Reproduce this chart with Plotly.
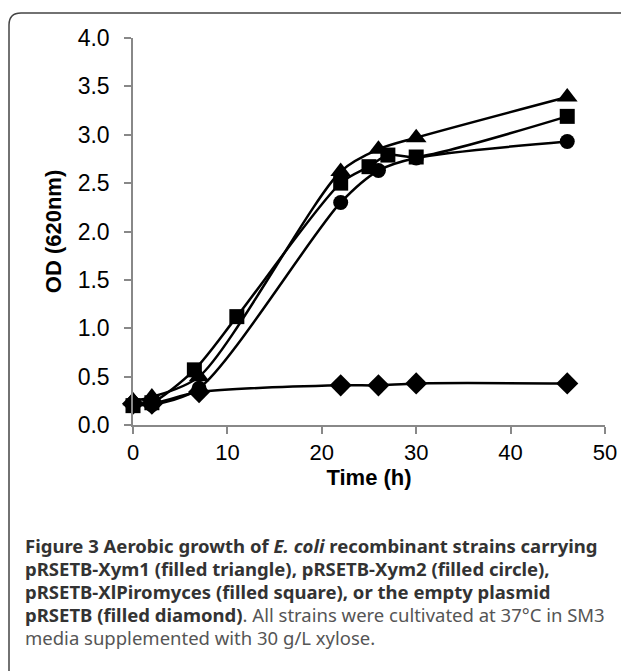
import plotly.graph_objects as go

# Data
t_xym1 = [0, 2, 7, 22, 26, 30, 46]
od_xym1 = [0.25, 0.29, 0.50, 2.62, 2.85, 2.97, 3.39]

t_xym2 = [0, 2, 7, 22, 26, 30, 46]
od_xym2 = [0.22, 0.21, 0.38, 2.30, 2.63, 2.76, 2.93]

t_xlp = [0, 2, 6.5, 11, 22, 25, 27, 30, 46]
od_xlp = [0.20, 0.23, 0.57, 1.12, 2.50, 2.67, 2.79, 2.77, 3.19]

t_empty = [0, 2, 7, 22, 26, 30, 46]
od_empty = [0.22, 0.22, 0.34, 0.41, 0.41, 0.43, 0.43]

x_ticks = [0, 10, 20, 30, 40, 50]
y_ticks = [0.0, 0.5, 1.0, 1.5, 2.0, 2.5, 3.0, 3.5, 4.0]

caption_lines = [
    "<b>Figure 3 Aerobic growth of <i>E. coli</i> recombinant strains carrying</b>",
    "<b>pRSETB-Xym1 (filled triangle), pRSETB-Xym2 (filled circle),</b>",
    "<b>pRSETB-XlPiromyces (filled square), or the empty plasmid</b>",
    "<b>pRSETB (filled diamond)</b><span style='color:#555'>. All strains were cultivated at 37°C in SM3</span>",
    "<span style='color:#555'>media supplemented with 30 g/L xylose.</span>",
]

# the page body has an 8px margin, so the figure is drawn offset by 8px
OFF = 8
W, H = 629 - OFF, 671 - OFF
ML, MR, MT, MB = 133 - OFF, 24, 38 - OFF, 246
PW = W - ML - MR
PH = H - MT - MB


def px(xp):
    return (xp - OFF - ML) / PW


def py(yp):
    return (H - MB - (yp - OFF)) / PH


fig = go.Figure()

series = [
    (t_empty, od_empty, "diamond", 17),
    (t_xym2, od_xym2, "circle", 15),
    (t_xlp, od_xlp, "square", 15),
    (t_xym1, od_xym1, "triangle-up", 18),
]
for tx, ty, sym, sz in series:
    fig.add_trace(go.Scatter(
        x=tx, y=ty, mode="lines+markers",
        line=dict(color="black", width=2.5, shape="spline", smoothing=0.8),
        marker=dict(symbol=sym, size=sz, color="black"),
        showlegend=False, cliponaxis=False,
    ))

fig.update_xaxes(
    range=[0, 50], tickvals=x_ticks, ticktext=[str(v) for v in x_ticks],
    showgrid=False, zeroline=False, showline=True, linecolor="#888", linewidth=1.5,
    ticks="outside", ticklen=7, tickcolor="#888", tickwidth=1.5,
    tickfont=dict(family="Liberation Sans, Arial", size=22, color="black"),
    title=dict(text="<b>Time (h)</b>", font=dict(family="Liberation Sans, Arial", size=22, color="black"), standoff=4),
)
fig.update_yaxes(
    range=[0, 4], tickvals=y_ticks, ticktext=[f"{v:.1f}" for v in y_ticks],
    showgrid=False, zeroline=False, showline=True, linecolor="#888", linewidth=1.5,
    ticks="outside", ticklen=7, tickcolor="#888", tickwidth=1.5,
    ticklabelstandoff=10,
    tickfont=dict(family="Liberation Sans, Arial", size=23, color="black"),
    title=dict(text="<b>OD (620nm)</b>", font=dict(family="Liberation Sans, Arial", size=22, color="black"), standoff=10),
)

annotations = []
ys = [545, 568, 591, 614, 637]
for txt, yy in zip(caption_lines, ys):
    annotations.append(dict(
        text=txt, xref="paper", yref="paper", x=px(23), y=py(yy),
        xanchor="left", yanchor="middle", showarrow=False, align="left",
        font=dict(family="Noto Sans", size=18.5, color="#333"),
    ))

# rounded border (left + top)
x0, y0, r = 9, 13, 12
path = (f"M {px(x0)} {py(680)} L {px(x0)} {py(y0 + r)} "
        f"Q {px(x0)} {py(y0)} {px(x0 + r)} {py(y0)} L {px(640)} {py(y0)}")

fig.update_layout(
    width=W, height=H,
    margin=dict(l=ML, r=MR, t=MT, b=MB),
    paper_bgcolor="white", plot_bgcolor="white",
    annotations=annotations,
    shapes=[dict(type="path", path=path, xref="paper", yref="paper",
                 line=dict(color="#444", width=1.5), layer="above")],
)

fig.write_html("out.html")
